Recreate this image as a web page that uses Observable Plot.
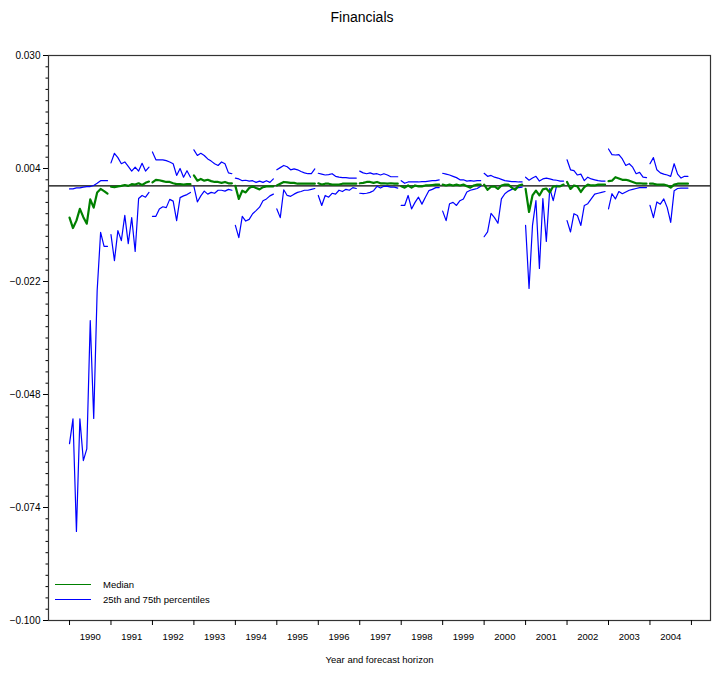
<!DOCTYPE html>
<html>
<head>
<meta charset="utf-8">
<script src="https://cdn.jsdelivr.net/npm/d3@7"></script>
<script src="https://cdn.jsdelivr.net/npm/@observablehq/plot@0.6"></script>
<style>
  html, body { margin: 0; padding: 0; background: #fff; }
  body { width: 716px; height: 673px; position: relative; font-family: "Liberation Sans", Arial, sans-serif; }
  #title { height: 40px; line-height: 34px; text-align: center; font-size: 14px; padding-left: 8px; box-sizing: border-box; }
  #legend { position: absolute; left: 55px; top: 577px; font-size: 9.5px; color: #000; }
  #legend .row { display: flex; align-items: center; height: 15px; }
  #legend .sw { width: 36px; margin-right: 12px; }
</style>
</head>
<body>
<div id="title">Financials</div>
<div id="chart"></div>
<div id="legend">
  <div class="row"><span class="sw" style="border-top:1.2px solid #008000"></span><span>Median</span></div>
  <div class="row"><span class="sw" style="border-top:1.2px solid #0000ff"></span><span>25th and 75th percentiles</span></div>
</div>
<script>
const years = [1990,1991,1992,1993,1994,1995,1996,1997,1998,1999,2000,2001,2002,2003,2004];

const p75 = [
  [-0.0007,-0.0007,-0.00045,-0.00045,-0.0003,-0.00015,-0.00015,0.0001,0.0006,0.0012,0.0012,0.0012],
  [0.0053,0.0075,0.0065,0.0051,0.0055,0.0045,0.0034,0.0043,0.0034,0.0052,0.0034,0.0043],
  [0.0078,0.0060,0.0060,0.0060,0.0058,0.0055,0.0051,0.0024,0.0040,0.0020,0.0035,0.0020],
  [0.0083,0.0070,0.0075,0.0070,0.0062,0.0057,0.0051,0.0047,0.0055,0.0051,0.0030,0.0028],
  [0.0018,0.0016,0.0012,0.0013,0.0011,0.0012,0.0008,0.0011,0.0008,0.0012,0.0008,0.0016],
  [0.0037,0.0042,0.0047,0.0044,0.0037,0.0039,0.0037,0.0033,0.0030,0.0028,0.0028,0.0039],
  [0.0029,0.0027,0.0025,0.0026,0.0028,0.0022,0.0020,0.0019,0.0019,0.0018,0.0018,0.0018],
  [0.0034,0.0030,0.0028,0.0030,0.0027,0.0028,0.0025,0.0028,0.0025,0.0021,0.0021,0.0021],
  [0.0012,0.0006,0.0009,0.0009,0.0009,0.0009,0.0010,0.0010,0.0011,0.0012,0.0012,0.0014],
  [0.0029,0.0027,0.0025,0.0022,0.0019,0.0014,0.0014,0.0011,0.0012,0.0011,0.0012,0.0012],
  [0.0029,0.0022,0.0024,0.0020,0.0018,0.0015,0.0012,0.0011,0.0010,0.0010,0.0009,0.0009],
  [0.0020,0.0013,0.0018,0.0022,0.0011,0.0016,0.0018,0.0016,0.0014,0.0013,0.0011,0.0011],
  [0.0060,0.0037,0.0035,0.0025,0.0027,0.0012,0.0020,0.0016,0.0014,0.0012,0.0011,0.0011],
  [0.0085,0.0072,0.0071,0.0072,0.0062,0.0047,0.0051,0.0043,0.0028,0.0031,0.0020,0.0019],
  [0.0051,0.0065,0.0037,0.0030,0.0027,0.0025,0.0022,0.0051,0.0027,0.0018,0.0022,0.0022]
];

const median = [
  [-0.0073,-0.0097,-0.0080,-0.0053,-0.0072,-0.0087,-0.0031,-0.0050,-0.0015,-0.0007,-0.0012,-0.0018],
  [-0.0002,-0.0003,-0.0001,0.0,0.0002,0.0,0.0004,0.0003,0.0006,0.0002,0.0007,0.0010],
  [0.0008,0.0014,0.0013,0.0011,0.0009,0.0009,0.0006,0.0004,0.0004,0.0003,0.0004,0.0004],
  [0.0024,0.0012,0.0016,0.0012,0.0014,0.0011,0.0009,0.0009,0.0007,0.0009,0.0006,0.0006],
  [0.0,-0.0030,-0.0011,-0.0015,-0.0005,-0.0001,-0.0005,-0.0008,-0.0003,-0.0001,-0.0001,-0.0001],
  [0.0001,0.0005,0.0009,0.0008,0.0007,0.0007,0.0005,0.0005,0.0005,0.0005,0.0005,0.0005],
  [0.0006,0.0003,0.0005,0.0005,0.0003,0.0003,0.0003,0.0005,0.0005,0.0005,0.0005,0.0005],
  [0.0006,0.0007,0.0009,0.0009,0.0007,0.0009,0.0006,0.0006,0.0005,0.0006,0.0005,0.0005],
  [-0.0001,-0.0004,0.0001,-0.0004,0.0001,-0.0001,-0.0001,0.0001,0.0001,0.0002,0.0003,0.0003],
  [0.0003,0.0001,0.0003,0.0001,0.0003,0.0001,0.0003,-0.0001,-0.0004,0.0001,0.0003,0.0003],
  [0.0003,-0.0009,-0.0002,-0.0001,-0.0007,0.0001,0.0003,0.0003,-0.0004,-0.0009,0.0001,0.0003],
  [-0.0007,-0.0060,-0.0022,-0.0011,-0.0022,-0.0008,-0.0006,-0.0015,-0.0001,-0.0001,-0.0001,0.0003],
  [0.0009,-0.0007,0.0001,-0.0001,-0.0014,-0.0003,0.0003,0.0001,0.0001,0.0003,0.0003,0.0003],
  [0.0011,0.0012,0.0020,0.0017,0.0014,0.0014,0.0012,0.0009,0.0006,0.0006,0.0005,0.0005],
  [0.0005,0.0005,0.0003,0.0003,0.0003,0.0001,-0.0004,0.0003,0.0005,0.0005,0.0005,0.0005]
];

const p25 = [
  [-0.0593,-0.0536,-0.0795,-0.0536,-0.0632,-0.0605,-0.0310,-0.0535,-0.0241,-0.0107,-0.0139,-0.0139],
  [-0.0112,-0.0172,-0.0103,-0.0126,-0.0068,-0.0133,-0.0073,-0.0151,-0.0029,-0.0022,-0.0026,-0.0015],
  [-0.0070,-0.0070,-0.0053,-0.0048,-0.0050,-0.0031,-0.0035,-0.0080,-0.0027,-0.0023,-0.0020,-0.0015],
  [-0.0001,-0.0037,-0.0023,-0.0012,-0.0019,-0.0015,-0.0017,-0.0010,-0.0010,-0.0012,-0.0008,-0.0010],
  [-0.0091,-0.0119,-0.0070,-0.0081,-0.0077,-0.0064,-0.0057,-0.0049,-0.0034,-0.0030,-0.0023,-0.0019],
  [-0.0053,-0.0073,-0.0009,-0.0022,-0.0024,-0.0019,-0.0015,-0.0013,-0.0010,-0.0010,-0.0008,-0.0006],
  [-0.0022,-0.0045,-0.0022,-0.0026,-0.0017,-0.0019,-0.0010,-0.0013,-0.0008,-0.0010,-0.0004,-0.0006],
  [-0.0017,-0.0018,-0.0017,-0.0015,-0.0011,-0.0001,-0.0005,-0.0001,-0.0001,-0.0003,-0.0003,-0.0005],
  [-0.0045,-0.0045,-0.0022,-0.0053,-0.0038,-0.0026,-0.0042,-0.0026,-0.0011,-0.0008,-0.0004,-0.0004],
  [-0.0058,-0.0080,-0.0041,-0.0038,-0.0045,-0.0034,-0.0030,-0.0014,-0.0010,-0.0008,-0.0006,-0.0001],
  [-0.0117,-0.0106,-0.0063,-0.0073,-0.0086,-0.0030,-0.0018,-0.0012,-0.0008,-0.0005,-0.0004,-0.0003],
  [-0.0091,-0.0236,-0.0091,-0.0034,-0.0190,-0.0029,-0.0128,-0.0006,-0.0034,0.0001,-0.0001,0.0003],
  [-0.0080,-0.0106,-0.0064,-0.0068,-0.0091,-0.0045,-0.0041,-0.0030,-0.0019,-0.0017,-0.0015,-0.0013],
  [-0.0053,-0.0018,-0.0030,-0.0013,-0.0018,-0.0014,-0.0010,-0.0008,-0.0006,-0.0004,-0.0004,-0.0004],
  [-0.0045,-0.0073,-0.0037,-0.0042,-0.0030,-0.0050,-0.0084,-0.0011,-0.0006,-0.0005,-0.0005,-0.0005]
];

const yMajorTicks = [0.030, 0.004, -0.022, -0.048, -0.074, -0.100];
const yMinorStep = 0.0026;
const xLabel = "Year and forecast horizon";

function rows(series, name) {
  const out = [];
  series.forEach((arr, i) => arr.forEach((v, m) => out.push({series: name, year: years[i], t: i + m / 12, v})));
  return out;
}
const upper = rows(p75, "p75");
const mid = rows(median, "median");
const lower = rows(p25, "p25");

const yMinorTicks = d3.range(0, 51).map(i => +(-0.100 + i * yMinorStep).toFixed(4));
const yearBounds = d3.range(0, years.length + 1);
const yearCenters = years.map((y, i) => i + 0.5);

const chart = Plot.plot({
  width: 716,
  height: 633,
  marginLeft: 48,
  marginRight: 6,
  marginTop: 15,
  marginBottom: 53,
  style: {fontFamily: "'Liberation Sans', Arial, sans-serif", fontSize: "10px", color: "#000", background: "#fff"},
  x: {type: "linear", domain: [-0.507, 15.46]},
  y: {domain: [-0.100, 0.030]},
  marks: [
    Plot.ruleY([0], {stroke: "#000", strokeWidth: 1.2}),
    Plot.line(upper, {x: "t", y: "v", z: "year", stroke: "#0000ff", strokeWidth: 1.2}),
    Plot.line(lower, {x: "t", y: "v", z: "year", stroke: "#0000ff", strokeWidth: 1.2}),
    Plot.line(mid, {x: "t", y: "v", z: "year", stroke: "#008000", strokeWidth: 2.2}),
    Plot.frame({stroke: "#333", strokeWidth: 1.2}),
    Plot.axisY({ticks: yMinorTicks, tickSize: 2.5, tickFormat: () => "", label: null}),
    Plot.axisY({ticks: yMajorTicks, tickSize: 5, tickPadding: 3, tickFormat: d3.format(".3f"), label: null, fontSize: 10}),
    Plot.axisX({ticks: yearBounds, tickSize: 5, tickFormat: () => "", label: null}),
    Plot.axisX({ticks: yearCenters, tickSize: 0, tickPadding: 13, tickFormat: d => String(years[Math.floor(d)]), label: null, fontSize: 9.5}),
    Plot.text([xLabel], {frameAnchor: "bottom", dy: 42, fontSize: 9.5, text: d => d})
  ]
});
document.getElementById("chart").appendChild(chart);
</script>
</body>
</html>
